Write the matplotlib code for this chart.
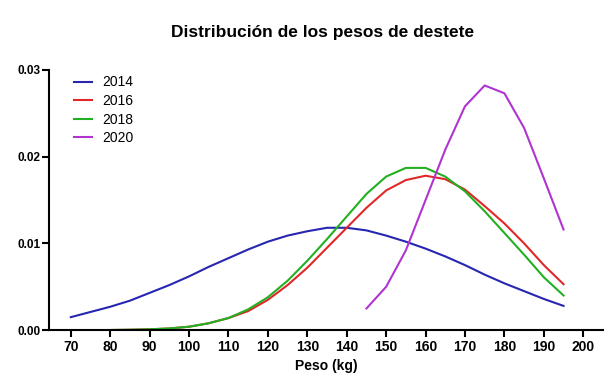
import matplotlib
matplotlib.use("Agg")
import matplotlib.pyplot as plt
import numpy as np

peso = [70, 75, 80, 85, 90, 95, 100, 105, 110, 115, 120, 125, 130,
        135, 140, 145, 150, 155, 160, 165, 170, 175, 180, 185, 190, 195]

d2014 = [0.0015, 0.0021, 0.0027, 0.0034, 0.0043, 0.0052, 0.0062, 0.0073, 0.0083,
         0.0093, 0.0102, 0.0109, 0.0114, 0.0118, 0.0118, 0.0115, 0.0109, 0.0102,
         0.0094, 0.0085, 0.0075, 0.0064, 0.0054, 0.0045, 0.0036, 0.0028]
d2016 = [0.0, 0.0, 0.00002, 0.00005, 0.0001, 0.0002, 0.0004, 0.0008, 0.0014,
         0.0022, 0.0035, 0.0052, 0.0072, 0.0095, 0.0118, 0.0141, 0.0161, 0.0173,
         0.0178, 0.0174, 0.0162, 0.0143, 0.0123, 0.0100, 0.0075, 0.0053]
d2018 = [0.0, 0.0, 0.00002, 0.00005, 0.0001, 0.0002, 0.0004, 0.0008, 0.0014,
         0.0024, 0.0038, 0.0057, 0.0080, 0.0105, 0.0131, 0.0157, 0.0177, 0.0187,
         0.0187, 0.0177, 0.0160, 0.0137, 0.0112, 0.0087, 0.0061, 0.0040]
peso2020 = [145, 150, 155, 160, 165, 170, 175, 180, 185, 190, 195]
d2020 = [0.0025, 0.0050, 0.0092, 0.0150, 0.0208, 0.0258, 0.0282, 0.0273,
         0.0233, 0.0175, 0.0116]

xticks = list(range(70, 201, 10))
yticks = [0.0, 0.01, 0.02, 0.03]

plt.rcParams['font.family'] = ['Liberation Sans', 'DejaVu Sans']

fig = plt.figure(figsize=(6.14, 3.88), dpi=100)
ax = fig.add_axes([0.08, 0.149, 0.902, 0.671])

ax.plot(peso, d2014, color='#2626b0', lw=1.5, label='2014')
ax.plot(peso, d2016, color='#e02828', lw=1.5, label='2016')
ax.plot(peso, d2018, color='#22b022', lw=1.5, label='2018')
ax.plot(peso2020, d2020, color='#b034d0', lw=1.5, label='2020')

ax.set_xlim(64.5, 205)
ax.set_ylim(0, 0.03)
ax.set_xticks(xticks)
ax.set_yticks(yticks)
ax.set_yticklabels(['%.2f' % v for v in yticks])
for s in ['top', 'right']:
    ax.spines[s].set_visible(False)
for s in ['left', 'bottom']:
    ax.spines[s].set_linewidth(1.5)
ax.tick_params(direction='out', length=5, width=1.5)
ax.tick_params(axis='x', labelsize=10, pad=2)
ax.tick_params(axis='y', labelsize=8.5, pad=1)
for lab in ax.get_xticklabels() + ax.get_yticklabels():
    lab.set_fontweight('bold')

ax.set_xlabel('Peso (kg)', fontsize=10, fontweight='bold', labelpad=4)
fig.suptitle('Distribución de los pesos de destete', fontsize=12.5, fontweight='bold',
             x=0.525, y=0.935)

ax.legend(loc='upper left', bbox_to_anchor=(0.035, 1.0), frameon=False,
          fontsize=10, handlelength=1.3, handletextpad=0.7, labelspacing=0.33,
          borderaxespad=0)

fig.savefig('out.png', dpi=100)
